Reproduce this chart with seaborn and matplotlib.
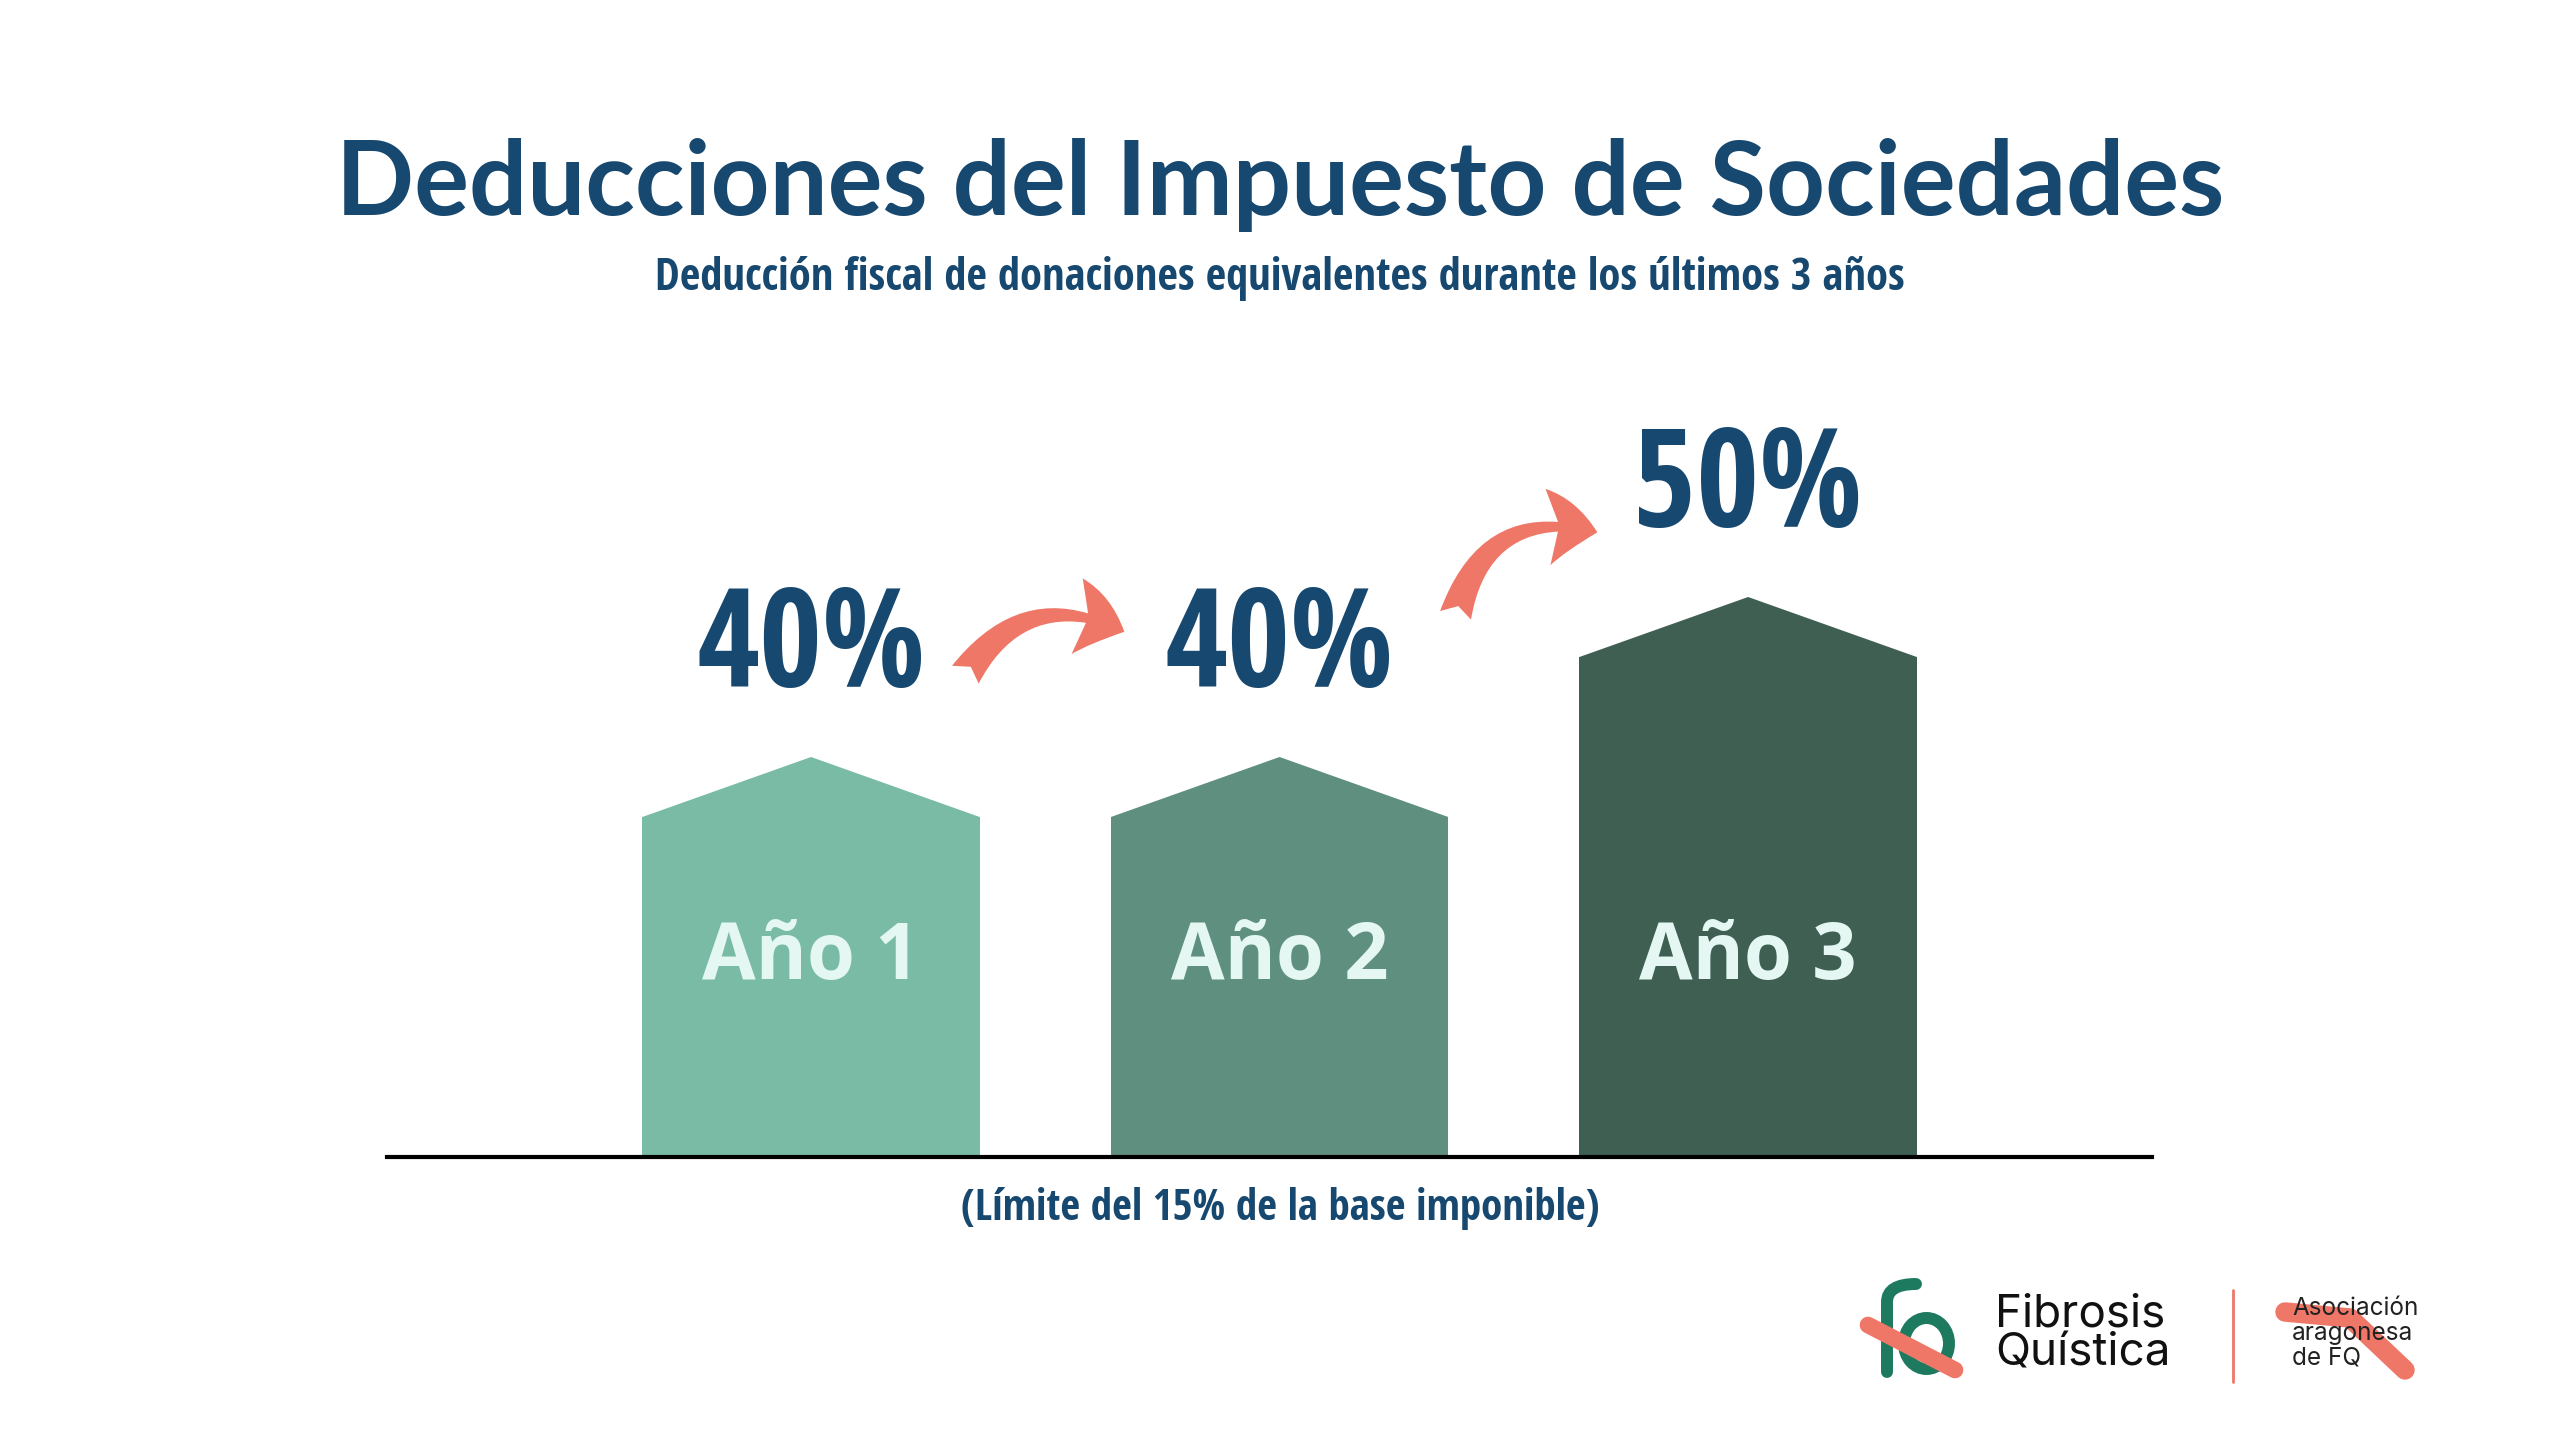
import os
import numpy as np
import pandas as pd
import matplotlib
matplotlib.use("Agg")
import matplotlib.pyplot as plt
import seaborn as sns
from matplotlib import font_manager as fm
from matplotlib.patches import Polygon, FancyArrowPatch, Ellipse, PathPatch
from matplotlib.path import Path

# data
years = ["Año 1", "Año 2", "Año 3"]
pct_labels = ["40%", "40%", "50%"]
wall_height = [340, 340, 500]     # height of the bar body
roof_height = [60, 60, 60]        # height of the pointed top
bar_colors = ["#79BBA4", "#5F8F7E", "#3E5F52"]

title = "Deducciones del Impuesto de Sociedades"
subtitle = "Deducción fiscal de donaciones equivalentes durante los últimos 3 años"
footnote = "(Límite del 15% de la base imponible)"

navy = "#17486F"
coral = "#EF7767"
green = "#1E7A5F"


def pick_font(prefs):
    # find an installed condensed / bold face by file name
    files = {}
    for f in fm.fontManager.ttflist:
        key = os.path.splitext(os.path.basename(f.fname))[0].lower().replace("-", "").replace("_", "")
        files[key] = f.fname
    for p in prefs:
        k = p.lower().replace("-", "").replace("_", "")
        if k in files:
            return fm.FontProperties(fname=files[k])
    for k, path in sorted(files.items()):
        if ("cond" in k or "narrow" in k) and "bold" in k and "italic" not in k and "semibold" not in k:
            return fm.FontProperties(fname=path)
    return fm.FontProperties(family="DejaVu Sans", weight="bold")


pct_font = pick_font(["NotoSans-ExtraCondensedBold", "NotoSans-ExtraCondensedBlack",
                      "OpenSans-CondBold", "OpenSans_Condensed-Bold", "NotoSans-CondensedBold",
                      "DejaVuSansCondensed-Bold", "LiberationSansNarrow-Bold"])
sub_font = pick_font(["OpenSans-CondBold", "OpenSans_Condensed-Bold", "NotoSans-CondensedBold",
                      "NotoSans-SemiCondensedBold", "DejaVuSansCondensed-Bold",
                      "LiberationSansNarrow-Bold"])

sns.set_theme(style="white")
plt.rcParams["font.family"] = ["Lato", "DejaVu Sans"]

W, H = 2560, 1447
fig = plt.figure(figsize=(W / 100, H / 100), dpi=100)
fig.patch.set_facecolor("white")

ax = fig.add_axes([387 / W, 290 / H, 1765 / W, 800 / H])
df = pd.DataFrame({"year": years, "height": wall_height})
sns.barplot(data=df, x="year", y="height", hue="year", palette=bar_colors,
            saturation=1, width=0.72, legend=False, ax=ax, linewidth=0)

# pointed roofs on top of each bar
for p, roof in zip(ax.patches, roof_height):
    x0, w, h = p.get_x(), p.get_width(), p.get_height()
    ax.add_patch(Polygon([(x0, h), (x0 + w / 2, h + roof), (x0 + w, h)],
                         closed=True, facecolor=p.get_facecolor(), lw=0))

for i, (yr, lab, hgt, roof) in enumerate(zip(years, pct_labels, wall_height, roof_height)):
    ax.text(i, hgt + roof + 70, lab, ha="center", va="baseline", fontproperties=pct_font,
            fontsize=98, color=navy)
    ax.text(i, 178, yr, ha="center", va="baseline", fontsize=56, fontweight="bold",
            color="#E4F7F2", family=["Open Sans", "DejaVu Sans"])

# curved arrows between the labels
arrows = [((0.326, 480), (0.674, 524), -0.45), ((1.374, 539), (1.684, 624), -0.5)]
for tail, head, rad in arrows:
    ax.add_patch(FancyArrowPatch(tail, head, connectionstyle=f"arc3,rad={rad}",
                                 arrowstyle="fancy,head_length=0.65,head_width=1.0,tail_width=0.42",
                                 mutation_scale=55, color=coral, lw=0))

ax.set_xlim(-0.905, 2.862)
ax.set_ylim(0, 800)
ax.set_xticks([])
ax.set_yticks([])
ax.set_xlabel("")
ax.set_ylabel("")
for s in ["top", "left", "right"]:
    ax.spines[s].set_visible(False)
ax.spines["bottom"].set_color("black")
ax.spines["bottom"].set_linewidth(3)

# titles and note
fig.text(0.5, 1 - 215 / H, title, ha="center", va="baseline", fontsize=74,
         fontweight="bold", color=navy)
fig.text(0.5, 1 - 290 / H, subtitle, ha="center", va="baseline", fontproperties=sub_font,
         fontsize=32, color=navy)
fig.text(0.5, 1 - 1220 / H, footnote, ha="center", va="baseline", fontproperties=sub_font,
         fontsize=31, color=navy)

# logos bottom right, drawn in pixel units
lax = fig.add_axes([0, 0, 1, 1], zorder=-1)
lax.set_xlim(0, W)
lax.set_ylim(H, 0)
lax.axis("off")
lax.patch.set_alpha(0)

f_path = Path([(1887, 1372), (1887, 1302), (1887, 1284), (1916, 1284)],
              [Path.MOVETO, Path.LINETO, Path.CURVE3, Path.CURVE3])
lax.add_patch(PathPatch(f_path, fill=False, edgecolor=green, lw=8.6, capstyle="round"))
lax.plot([1868, 1955], [1325, 1370], color=coral, lw=12, solid_capstyle="round")
lax.add_patch(Ellipse((1926.5, 1343.5), 45, 51, fill=False, edgecolor=green, lw=8.6))

lax.text(1995, 1365, "Fibrosis\nQuística", ha="left", va="baseline", fontsize=33,
         linespacing=0.9, color="#111111", family=["Inter", "DejaVu Sans"])
lax.plot([2233, 2233], [1290, 1382], color=coral, lw=2)
lax.plot([2285, 2350, 2405], [1312, 1318, 1370], color=coral, lw=14,
         solid_capstyle="round", solid_joinstyle="round")
lax.text(2292, 1365, "Asociación\naragonesa\nde FQ", ha="left", va="baseline", fontsize=17.5,
         linespacing=1.1, color="#222222", family=["Inter", "DejaVu Sans"])

fig.savefig("out.png", dpi=100, facecolor="white")
